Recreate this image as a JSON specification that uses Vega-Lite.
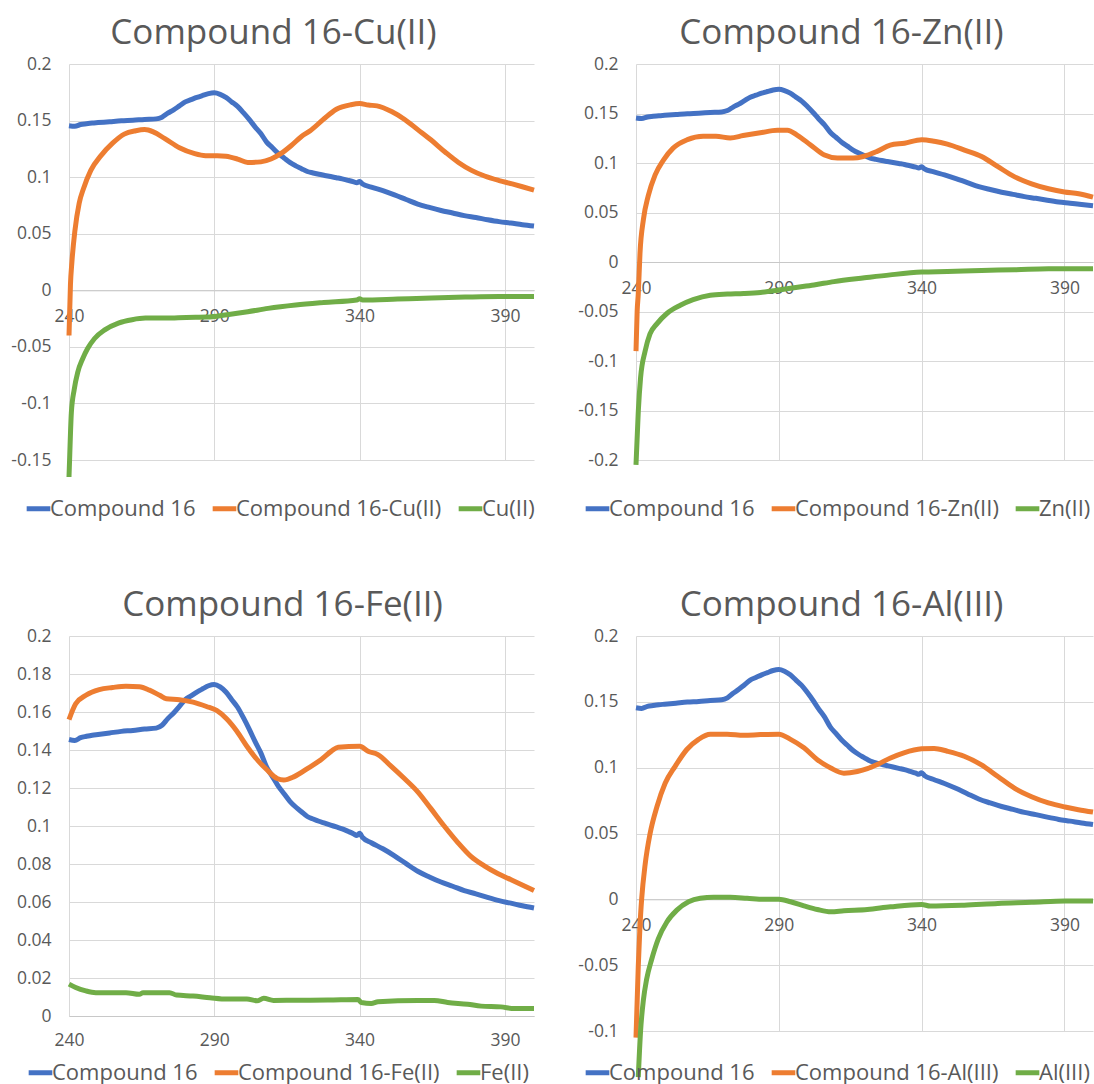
{
  "$schema": "https://vega.github.io/schema/vega-lite/v6.json",
  "background": "white",
  "padding": {"left": 10, "top": 15, "right": 0, "bottom": 0},
  "bounds": "flush",
  "columns": 2,
  "spacing": {"column": 102, "row": 176},
  "config": {
    "font": "Open Sans",
    "view": {"stroke": null},
    "axis": {"gridColor": "#D9D9D9", "gridWidth": 1, "labelColor": "#595959", "labelFontSize": 17.5, "labelFont": "Open Sans", "ticks": false, "tickSize": 0, "title": null},
    "legend": {"orient": "none", "direction": "horizontal", "title": null, "symbolType": "stroke", "symbolStrokeWidth": 5, "symbolSize": 560, "labelFontSize": 22, "labelColor": "#595959", "labelFont": "Open Sans", "labelOffset": -3, "labelLimit": 500, "columnPadding": 6, "padding": 0, "legendY": 430},
    "title": {"fontSize": 35, "font": "Open Sans", "fontWeight": "normal", "color": "#595959", "baseline": "alphabetic", "offset": 4.5, "anchor": "middle", "frame": "group"},
    "line": {"strokeWidth": 5, "clip": true, "interpolate": "monotone"}
  },
  "resolve": {"scale": {"color": "independent", "x": "independent", "y": "independent"}, "legend": {"color": "independent"}},
  "datasets": {
    "c16": [
      {"nm":240,"abs":0.1455,"series":"Compound 16"},{"nm":242,"abs":0.1450,"series":"Compound 16"},{"nm":244,"abs":0.1465,"series":"Compound 16"},{"nm":246,"abs":0.1472,"series":"Compound 16"},{"nm":248,"abs":0.1478,"series":"Compound 16"},{"nm":250,"abs":0.1482,"series":"Compound 16"},{"nm":254,"abs":0.1490,"series":"Compound 16"},{"nm":258,"abs":0.1498,"series":"Compound 16"},{"nm":262,"abs":0.1503,"series":"Compound 16"},{"nm":266,"abs":0.1510,"series":"Compound 16"},{"nm":270,"abs":0.1515,"series":"Compound 16"},{"nm":272,"abs":0.1530,"series":"Compound 16"},{"nm":274,"abs":0.1565,"series":"Compound 16"},{"nm":276,"abs":0.1595,"series":"Compound 16"},{"nm":278,"abs":0.1630,"series":"Compound 16"},{"nm":280,"abs":0.1665,"series":"Compound 16"},{"nm":282,"abs":0.1685,"series":"Compound 16"},{"nm":284,"abs":0.1705,"series":"Compound 16"},{"nm":286,"abs":0.1722,"series":"Compound 16"},{"nm":288,"abs":0.1738,"series":"Compound 16"},{"nm":290,"abs":0.1745,"series":"Compound 16"},{"nm":292,"abs":0.1732,"series":"Compound 16"},{"nm":294,"abs":0.1705,"series":"Compound 16"},{"nm":296,"abs":0.1665,"series":"Compound 16"},{"nm":298,"abs":0.1625,"series":"Compound 16"},{"nm":300,"abs":0.1570,"series":"Compound 16"},{"nm":302,"abs":0.1510,"series":"Compound 16"},{"nm":304,"abs":0.1445,"series":"Compound 16"},{"nm":306,"abs":0.1385,"series":"Compound 16"},{"nm":308,"abs":0.1310,"series":"Compound 16"},{"nm":310,"abs":0.1260,"series":"Compound 16"},{"nm":312,"abs":0.1210,"series":"Compound 16"},{"nm":314,"abs":0.1170,"series":"Compound 16"},{"nm":316,"abs":0.1130,"series":"Compound 16"},{"nm":318,"abs":0.1100,"series":"Compound 16"},{"nm":320,"abs":0.1075,"series":"Compound 16"},{"nm":322,"abs":0.1050,"series":"Compound 16"},{"nm":324,"abs":0.1037,"series":"Compound 16"},{"nm":326,"abs":0.1025,"series":"Compound 16"},{"nm":328,"abs":0.1015,"series":"Compound 16"},{"nm":330,"abs":0.1005,"series":"Compound 16"},{"nm":332,"abs":0.0995,"series":"Compound 16"},{"nm":334,"abs":0.0985,"series":"Compound 16"},{"nm":336,"abs":0.0972,"series":"Compound 16"},{"nm":338,"abs":0.0958,"series":"Compound 16"},{"nm":339,"abs":0.0950,"series":"Compound 16"},{"nm":340,"abs":0.0962,"series":"Compound 16"},{"nm":341,"abs":0.0940,"series":"Compound 16"},{"nm":344,"abs":0.0912,"series":"Compound 16"},{"nm":348,"abs":0.0880,"series":"Compound 16"},{"nm":352,"abs":0.0843,"series":"Compound 16"},{"nm":356,"abs":0.0802,"series":"Compound 16"},{"nm":360,"abs":0.0762,"series":"Compound 16"},{"nm":364,"abs":0.0732,"series":"Compound 16"},{"nm":368,"abs":0.0705,"series":"Compound 16"},{"nm":372,"abs":0.0683,"series":"Compound 16"},{"nm":376,"abs":0.0660,"series":"Compound 16"},{"nm":380,"abs":0.0643,"series":"Compound 16"},{"nm":384,"abs":0.0624,"series":"Compound 16"},{"nm":388,"abs":0.0607,"series":"Compound 16"},{"nm":392,"abs":0.0594,"series":"Compound 16"},{"nm":396,"abs":0.0580,"series":"Compound 16"},{"nm":400,"abs":0.0568,"series":"Compound 16"}
    ],
    "cu": [
      {"nm":240,"abs":-0.040,"series":"Compound 16-Cu(II)"},{"nm":240.5,"abs":0.005,"series":"Compound 16-Cu(II)"},{"nm":241,"abs":0.025,"series":"Compound 16-Cu(II)"},{"nm":242,"abs":0.052,"series":"Compound 16-Cu(II)"},{"nm":243.5,"abs":0.077,"series":"Compound 16-Cu(II)"},{"nm":245,"abs":0.090,"series":"Compound 16-Cu(II)"},{"nm":247.5,"abs":0.106,"series":"Compound 16-Cu(II)"},{"nm":251,"abs":0.119,"series":"Compound 16-Cu(II)"},{"nm":255,"abs":0.130,"series":"Compound 16-Cu(II)"},{"nm":259,"abs":0.138,"series":"Compound 16-Cu(II)"},{"nm":263,"abs":0.141,"series":"Compound 16-Cu(II)"},{"nm":266,"abs":0.142,"series":"Compound 16-Cu(II)"},{"nm":269,"abs":0.140,"series":"Compound 16-Cu(II)"},{"nm":273,"abs":0.134,"series":"Compound 16-Cu(II)"},{"nm":278,"abs":0.126,"series":"Compound 16-Cu(II)"},{"nm":283,"abs":0.121,"series":"Compound 16-Cu(II)"},{"nm":287,"abs":0.119,"series":"Compound 16-Cu(II)"},{"nm":291,"abs":0.119,"series":"Compound 16-Cu(II)"},{"nm":294,"abs":0.1185,"series":"Compound 16-Cu(II)"},{"nm":298,"abs":0.116,"series":"Compound 16-Cu(II)"},{"nm":301.5,"abs":0.113,"series":"Compound 16-Cu(II)"},{"nm":306,"abs":0.1135,"series":"Compound 16-Cu(II)"},{"nm":309.5,"abs":0.116,"series":"Compound 16-Cu(II)"},{"nm":313,"abs":0.121,"series":"Compound 16-Cu(II)"},{"nm":316.5,"abs":0.128,"series":"Compound 16-Cu(II)"},{"nm":320,"abs":0.136,"series":"Compound 16-Cu(II)"},{"nm":323,"abs":0.141,"series":"Compound 16-Cu(II)"},{"nm":327.5,"abs":0.151,"series":"Compound 16-Cu(II)"},{"nm":332,"abs":0.160,"series":"Compound 16-Cu(II)"},{"nm":337,"abs":0.164,"series":"Compound 16-Cu(II)"},{"nm":340,"abs":0.165,"series":"Compound 16-Cu(II)"},{"nm":343,"abs":0.1637,"series":"Compound 16-Cu(II)"},{"nm":346,"abs":0.163,"series":"Compound 16-Cu(II)"},{"nm":351,"abs":0.158,"series":"Compound 16-Cu(II)"},{"nm":355.5,"abs":0.151,"series":"Compound 16-Cu(II)"},{"nm":360,"abs":0.142,"series":"Compound 16-Cu(II)"},{"nm":364.5,"abs":0.133,"series":"Compound 16-Cu(II)"},{"nm":369.5,"abs":0.122,"series":"Compound 16-Cu(II)"},{"nm":374,"abs":0.113,"series":"Compound 16-Cu(II)"},{"nm":378.5,"abs":0.106,"series":"Compound 16-Cu(II)"},{"nm":383,"abs":0.101,"series":"Compound 16-Cu(II)"},{"nm":388,"abs":0.097,"series":"Compound 16-Cu(II)"},{"nm":392.5,"abs":0.094,"series":"Compound 16-Cu(II)"},{"nm":396,"abs":0.0915,"series":"Compound 16-Cu(II)"},{"nm":400,"abs":0.0885,"series":"Compound 16-Cu(II)"},
      {"nm":240,"abs":-0.165,"series":"Cu(II)"},{"nm":240.2,"abs":-0.150,"series":"Cu(II)"},{"nm":240.8,"abs":-0.1085,"series":"Cu(II)"},{"nm":241.8,"abs":-0.0875,"series":"Cu(II)"},{"nm":243,"abs":-0.0725,"series":"Cu(II)"},{"nm":244.7,"abs":-0.0605,"series":"Cu(II)"},{"nm":246.4,"abs":-0.0515,"series":"Cu(II)"},{"nm":248.8,"abs":-0.0426,"series":"Cu(II)"},{"nm":252.3,"abs":-0.035,"series":"Cu(II)"},{"nm":257,"abs":-0.029,"series":"Cu(II)"},{"nm":261.7,"abs":-0.026,"series":"Cu(II)"},{"nm":266.3,"abs":-0.0246,"series":"Cu(II)"},{"nm":273.4,"abs":-0.0246,"series":"Cu(II)"},{"nm":280.4,"abs":-0.024,"series":"Cu(II)"},{"nm":287.4,"abs":-0.0237,"series":"Cu(II)"},{"nm":294.4,"abs":-0.0216,"series":"Cu(II)"},{"nm":301.5,"abs":-0.019,"series":"Cu(II)"},{"nm":308.5,"abs":-0.016,"series":"Cu(II)"},{"nm":318,"abs":-0.013,"series":"Cu(II)"},{"nm":327.6,"abs":-0.0108,"series":"Cu(II)"},{"nm":339,"abs":-0.0086,"series":"Cu(II)"},{"nm":340,"abs":-0.0075,"series":"Cu(II)"},{"nm":341,"abs":-0.0086,"series":"Cu(II)"},{"nm":353,"abs":-0.0078,"series":"Cu(II)"},{"nm":364.7,"abs":-0.0069,"series":"Cu(II)"},{"nm":376.3,"abs":-0.006,"series":"Cu(II)"},{"nm":388,"abs":-0.0054,"series":"Cu(II)"},{"nm":400,"abs":-0.0054,"series":"Cu(II)"}
    ],
    "zn": [
      {"nm":240,"abs":-0.090,"series":"Compound 16-Zn(II)"},{"nm":240.4,"abs":-0.050,"series":"Compound 16-Zn(II)"},{"nm":240.8,"abs":-0.032,"series":"Compound 16-Zn(II)"},{"nm":241.4,"abs":0.009,"series":"Compound 16-Zn(II)"},{"nm":242.6,"abs":0.043,"series":"Compound 16-Zn(II)"},{"nm":244.3,"abs":0.067,"series":"Compound 16-Zn(II)"},{"nm":246.7,"abs":0.088,"series":"Compound 16-Zn(II)"},{"nm":249.6,"abs":0.103,"series":"Compound 16-Zn(II)"},{"nm":253,"abs":0.115,"series":"Compound 16-Zn(II)"},{"nm":258,"abs":0.1236,"series":"Compound 16-Zn(II)"},{"nm":263.5,"abs":0.127,"series":"Compound 16-Zn(II)"},{"nm":268,"abs":0.127,"series":"Compound 16-Zn(II)"},{"nm":273,"abs":0.1253,"series":"Compound 16-Zn(II)"},{"nm":277.5,"abs":0.1277,"series":"Compound 16-Zn(II)"},{"nm":283.5,"abs":0.1305,"series":"Compound 16-Zn(II)"},{"nm":289.5,"abs":0.133,"series":"Compound 16-Zn(II)"},{"nm":293,"abs":0.133,"series":"Compound 16-Zn(II)"},{"nm":296.5,"abs":0.128,"series":"Compound 16-Zn(II)"},{"nm":301,"abs":0.1185,"series":"Compound 16-Zn(II)"},{"nm":306,"abs":0.108,"series":"Compound 16-Zn(II)"},{"nm":310.5,"abs":0.105,"series":"Compound 16-Zn(II)"},{"nm":316,"abs":0.105,"series":"Compound 16-Zn(II)"},{"nm":319.6,"abs":0.1066,"series":"Compound 16-Zn(II)"},{"nm":324.4,"abs":0.1117,"series":"Compound 16-Zn(II)"},{"nm":329,"abs":0.118,"series":"Compound 16-Zn(II)"},{"nm":334,"abs":0.120,"series":"Compound 16-Zn(II)"},{"nm":340,"abs":0.1236,"series":"Compound 16-Zn(II)"},{"nm":344.4,"abs":0.122,"series":"Compound 16-Zn(II)"},{"nm":349,"abs":0.119,"series":"Compound 16-Zn(II)"},{"nm":355,"abs":0.113,"series":"Compound 16-Zn(II)"},{"nm":361,"abs":0.1066,"series":"Compound 16-Zn(II)"},{"nm":366.7,"abs":0.0963,"series":"Compound 16-Zn(II)"},{"nm":372.6,"abs":0.086,"series":"Compound 16-Zn(II)"},{"nm":378.5,"abs":0.079,"series":"Compound 16-Zn(II)"},{"nm":384.4,"abs":0.074,"series":"Compound 16-Zn(II)"},{"nm":390,"abs":0.0707,"series":"Compound 16-Zn(II)"},{"nm":395,"abs":0.069,"series":"Compound 16-Zn(II)"},{"nm":400,"abs":0.0656,"series":"Compound 16-Zn(II)"},
      {"nm":240,"abs":-0.205,"series":"Zn(II)"},{"nm":240.8,"abs":-0.151,"series":"Zn(II)"},{"nm":241.6,"abs":-0.117,"series":"Zn(II)"},{"nm":243.2,"abs":-0.090,"series":"Zn(II)"},{"nm":244.9,"abs":-0.0727,"series":"Zn(II)"},{"nm":247.3,"abs":-0.0625,"series":"Zn(II)"},{"nm":250.8,"abs":-0.052,"series":"Zn(II)"},{"nm":255.5,"abs":-0.0437,"series":"Zn(II)"},{"nm":260,"abs":-0.038,"series":"Zn(II)"},{"nm":266,"abs":-0.0335,"series":"Zn(II)"},{"nm":272,"abs":-0.0324,"series":"Zn(II)"},{"nm":277.7,"abs":-0.0318,"series":"Zn(II)"},{"nm":283.6,"abs":-0.0307,"series":"Zn(II)"},{"nm":290,"abs":-0.0283,"series":"Zn(II)"},{"nm":295.3,"abs":-0.026,"series":"Zn(II)"},{"nm":302.3,"abs":-0.0232,"series":"Zn(II)"},{"nm":309.3,"abs":-0.0198,"series":"Zn(II)"},{"nm":320,"abs":-0.016,"series":"Zn(II)"},{"nm":329,"abs":-0.013,"series":"Zn(II)"},{"nm":340,"abs":-0.0102,"series":"Zn(II)"},{"nm":349,"abs":-0.0096,"series":"Zn(II)"},{"nm":361,"abs":-0.0085,"series":"Zn(II)"},{"nm":372.6,"abs":-0.0079,"series":"Zn(II)"},{"nm":384.4,"abs":-0.0068,"series":"Zn(II)"},{"nm":400,"abs":-0.0068,"series":"Zn(II)"}
    ],
    "fe": [
      {"nm":240,"abs":0.156,"series":"Compound 16-Fe(II)"},{"nm":242.3,"abs":0.1643,"series":"Compound 16-Fe(II)"},{"nm":245.8,"abs":0.1688,"series":"Compound 16-Fe(II)"},{"nm":250.4,"abs":0.1718,"series":"Compound 16-Fe(II)"},{"nm":255,"abs":0.1729,"series":"Compound 16-Fe(II)"},{"nm":259.6,"abs":0.1736,"series":"Compound 16-Fe(II)"},{"nm":264.2,"abs":0.1733,"series":"Compound 16-Fe(II)"},{"nm":267.7,"abs":0.1715,"series":"Compound 16-Fe(II)"},{"nm":271.2,"abs":0.1688,"series":"Compound 16-Fe(II)"},{"nm":273.5,"abs":0.167,"series":"Compound 16-Fe(II)"},{"nm":278,"abs":0.1665,"series":"Compound 16-Fe(II)"},{"nm":282.7,"abs":0.1652,"series":"Compound 16-Fe(II)"},{"nm":287.3,"abs":0.1629,"series":"Compound 16-Fe(II)"},{"nm":290.8,"abs":0.1608,"series":"Compound 16-Fe(II)"},{"nm":294.3,"abs":0.1563,"series":"Compound 16-Fe(II)"},{"nm":297.7,"abs":0.150,"series":"Compound 16-Fe(II)"},{"nm":301.2,"abs":0.142,"series":"Compound 16-Fe(II)"},{"nm":304.7,"abs":0.135,"series":"Compound 16-Fe(II)"},{"nm":308.1,"abs":0.1296,"series":"Compound 16-Fe(II)"},{"nm":311.6,"abs":0.125,"series":"Compound 16-Fe(II)"},{"nm":313.9,"abs":0.1242,"series":"Compound 16-Fe(II)"},{"nm":317.5,"abs":0.126,"series":"Compound 16-Fe(II)"},{"nm":322.3,"abs":0.1305,"series":"Compound 16-Fe(II)"},{"nm":326.8,"abs":0.135,"series":"Compound 16-Fe(II)"},{"nm":330.3,"abs":0.1394,"series":"Compound 16-Fe(II)"},{"nm":332.6,"abs":0.1415,"series":"Compound 16-Fe(II)"},{"nm":340,"abs":0.142,"series":"Compound 16-Fe(II)"},{"nm":342.9,"abs":0.1394,"series":"Compound 16-Fe(II)"},{"nm":346.3,"abs":0.1376,"series":"Compound 16-Fe(II)"},{"nm":350.9,"abs":0.1314,"series":"Compound 16-Fe(II)"},{"nm":355.4,"abs":0.125,"series":"Compound 16-Fe(II)"},{"nm":360,"abs":0.118,"series":"Compound 16-Fe(II)"},{"nm":364.6,"abs":0.109,"series":"Compound 16-Fe(II)"},{"nm":369.1,"abs":0.100,"series":"Compound 16-Fe(II)"},{"nm":373.8,"abs":0.0913,"series":"Compound 16-Fe(II)"},{"nm":378.3,"abs":0.084,"series":"Compound 16-Fe(II)"},{"nm":382.9,"abs":0.079,"series":"Compound 16-Fe(II)"},{"nm":387.5,"abs":0.075,"series":"Compound 16-Fe(II)"},{"nm":392.1,"abs":0.0717,"series":"Compound 16-Fe(II)"},{"nm":400,"abs":0.0660,"series":"Compound 16-Fe(II)"},
      {"nm":240,"abs":0.0168,"series":"Fe(II)"},{"nm":242.3,"abs":0.015,"series":"Fe(II)"},{"nm":245.8,"abs":0.0132,"series":"Fe(II)"},{"nm":249.2,"abs":0.0123,"series":"Fe(II)"},{"nm":253.9,"abs":0.0123,"series":"Fe(II)"},{"nm":259.6,"abs":0.0123,"series":"Fe(II)"},{"nm":264.2,"abs":0.0114,"series":"Fe(II)"},{"nm":265.5,"abs":0.0123,"series":"Fe(II)"},{"nm":274.6,"abs":0.0123,"series":"Fe(II)"},{"nm":277,"abs":0.011,"series":"Fe(II)"},{"nm":282.7,"abs":0.0105,"series":"Fe(II)"},{"nm":288.5,"abs":0.0096,"series":"Fe(II)"},{"nm":294.3,"abs":0.0089,"series":"Fe(II)"},{"nm":301.2,"abs":0.0089,"series":"Fe(II)"},{"nm":304.7,"abs":0.008,"series":"Fe(II)"},{"nm":307,"abs":0.0093,"series":"Fe(II)"},{"nm":310.4,"abs":0.0082,"series":"Fe(II)"},{"nm":317.5,"abs":0.0083,"series":"Fe(II)"},{"nm":329.1,"abs":0.0084,"series":"Fe(II)"},{"nm":339.4,"abs":0.0087,"series":"Fe(II)"},{"nm":340.6,"abs":0.0071,"series":"Fe(II)"},{"nm":344,"abs":0.0066,"series":"Fe(II)"},{"nm":346.3,"abs":0.0075,"series":"Fe(II)"},{"nm":360,"abs":0.0082,"series":"Fe(II)"},{"nm":365.7,"abs":0.0082,"series":"Fe(II)"},{"nm":370.3,"abs":0.0071,"series":"Fe(II)"},{"nm":377.2,"abs":0.0062,"series":"Fe(II)"},{"nm":381.8,"abs":0.0052,"series":"Fe(II)"},{"nm":388.6,"abs":0.0048,"series":"Fe(II)"},{"nm":393.2,"abs":0.0039,"series":"Fe(II)"},{"nm":400,"abs":0.0039,"series":"Fe(II)"}
    ],
    "al": [
      {"nm":240,"abs":-0.105,"series":"Compound 16-Al(III)"},{"nm":240.8,"abs":-0.0506,"series":"Compound 16-Al(III)"},{"nm":241.4,"abs":-0.0198,"series":"Compound 16-Al(III)"},{"nm":242,"abs":0.0008,"series":"Compound 16-Al(III)"},{"nm":243.2,"abs":0.0265,"series":"Compound 16-Al(III)"},{"nm":244.9,"abs":0.0496,"series":"Compound 16-Al(III)"},{"nm":247.3,"abs":0.0701,"series":"Compound 16-Al(III)"},{"nm":250.2,"abs":0.0881,"series":"Compound 16-Al(III)"},{"nm":253.7,"abs":0.101,"series":"Compound 16-Al(III)"},{"nm":257.8,"abs":0.1138,"series":"Compound 16-Al(III)"},{"nm":261.9,"abs":0.1215,"series":"Compound 16-Al(III)"},{"nm":266,"abs":0.1254,"series":"Compound 16-Al(III)"},{"nm":271.9,"abs":0.1254,"series":"Compound 16-Al(III)"},{"nm":277.7,"abs":0.1246,"series":"Compound 16-Al(III)"},{"nm":283.6,"abs":0.1251,"series":"Compound 16-Al(III)"},{"nm":290,"abs":0.1254,"series":"Compound 16-Al(III)"},{"nm":294.1,"abs":0.1215,"series":"Compound 16-Al(III)"},{"nm":298.8,"abs":0.1151,"series":"Compound 16-Al(III)"},{"nm":303.5,"abs":0.1061,"series":"Compound 16-Al(III)"},{"nm":308.2,"abs":0.0997,"series":"Compound 16-Al(III)"},{"nm":312.8,"abs":0.0958,"series":"Compound 16-Al(III)"},{"nm":317.5,"abs":0.0971,"series":"Compound 16-Al(III)"},{"nm":321,"abs":0.0992,"series":"Compound 16-Al(III)"},{"nm":324.4,"abs":0.1023,"series":"Compound 16-Al(III)"},{"nm":329.1,"abs":0.1074,"series":"Compound 16-Al(III)"},{"nm":333.8,"abs":0.1113,"series":"Compound 16-Al(III)"},{"nm":340,"abs":0.1143,"series":"Compound 16-Al(III)"},{"nm":344.4,"abs":0.1146,"series":"Compound 16-Al(III)"},{"nm":349,"abs":0.1125,"series":"Compound 16-Al(III)"},{"nm":354.9,"abs":0.1087,"series":"Compound 16-Al(III)"},{"nm":360.8,"abs":0.1023,"series":"Compound 16-Al(III)"},{"nm":366.7,"abs":0.0933,"series":"Compound 16-Al(III)"},{"nm":372.6,"abs":0.0843,"series":"Compound 16-Al(III)"},{"nm":378.5,"abs":0.0779,"series":"Compound 16-Al(III)"},{"nm":384.4,"abs":0.0732,"series":"Compound 16-Al(III)"},{"nm":390.2,"abs":0.0701,"series":"Compound 16-Al(III)"},{"nm":394.9,"abs":0.0681,"series":"Compound 16-Al(III)"},{"nm":400,"abs":0.0663,"series":"Compound 16-Al(III)"},
      {"nm":240.8,"abs":-0.135,"series":"Al(III)"},{"nm":241.6,"abs":-0.100,"series":"Al(III)"},{"nm":242.6,"abs":-0.0763,"series":"Al(III)"},{"nm":243.7,"abs":-0.0609,"series":"Al(III)"},{"nm":245.5,"abs":-0.0455,"series":"Al(III)"},{"nm":247.8,"abs":-0.030,"series":"Al(III)"},{"nm":250.8,"abs":-0.0172,"series":"Al(III)"},{"nm":254.3,"abs":-0.0082,"series":"Al(III)"},{"nm":258.4,"abs":-0.0018,"series":"Al(III)"},{"nm":262.5,"abs":0.0008,"series":"Al(III)"},{"nm":267.2,"abs":0.0015,"series":"Al(III)"},{"nm":273,"abs":0.0015,"series":"Al(III)"},{"nm":278.9,"abs":0.0008,"series":"Al(III)"},{"nm":284.7,"abs":0,"series":"Al(III)"},{"nm":290,"abs":0,"series":"Al(III)"},{"nm":294.1,"abs":-0.0018,"series":"Al(III)"},{"nm":298.8,"abs":-0.0049,"series":"Al(III)"},{"nm":303.5,"abs":-0.0077,"series":"Al(III)"},{"nm":308.2,"abs":-0.0095,"series":"Al(III)"},{"nm":312.8,"abs":-0.0087,"series":"Al(III)"},{"nm":321,"abs":-0.0077,"series":"Al(III)"},{"nm":329.1,"abs":-0.0057,"series":"Al(III)"},{"nm":340,"abs":-0.0039,"series":"Al(III)"},{"nm":343,"abs":-0.0051,"series":"Al(III)"},{"nm":354.9,"abs":-0.0044,"series":"Al(III)"},{"nm":366.7,"abs":-0.0031,"series":"Al(III)"},{"nm":378.5,"abs":-0.0023,"series":"Al(III)"},{"nm":390.2,"abs":-0.0013,"series":"Al(III)"},{"nm":400,"abs":-0.0013,"series":"Al(III)"}
    ]
  },
  "concat": [
    {
      "title": {"text": "Compound 16-Cu(II)", "dx": -28},
      "width": 465, "height": 396,
      "encoding": {
        "x": {"field": "nm", "type": "quantitative", "scale": {"domain": [240, 400], "nice": false, "zero": false}, "axis": {"values": [240, 290, 340, 390], "grid": true, "domainColor": "#C8C8C8", "labelPadding": 17, "labelFlush": false, "offset": -169.7}},
        "y": {"field": "abs", "type": "quantitative", "scale": {"domain": [-0.15, 0.2], "nice": false, "zero": false}, "axis": {"values": [-0.15, -0.1, -0.05, 0, 0.05, 0.1, 0.15, 0.2], "grid": true, "domain": false, "labelPadding": 18, "labelExpr": "'' + datum.value"}},
        "color": {"field": "series", "type": "nominal", "scale": {"domain": ["Compound 16", "Compound 16-Cu(II)", "Cu(II)"], "range": ["#4472C4", "#ED7D31", "#70AD47"]}, "legend": {"legendX": -45}}
      },
      "layer": [
        {"data": {"name": "c16"}, "mark": "line"},
        {"data": {"name": "cu"}, "mark": "line"}
      ]
    },
    {
      "title": {"text": "Compound 16-Zn(II)", "dx": -23},
      "width": 457, "height": 396,
      "encoding": {
        "x": {"field": "nm", "type": "quantitative", "scale": {"domain": [240, 400], "nice": false, "zero": false}, "axis": {"values": [240, 290, 340, 390], "grid": true, "domainColor": "#C8C8C8", "labelPadding": 17, "labelFlush": false, "offset": -198}},
        "y": {"field": "abs", "type": "quantitative", "scale": {"domain": [-0.2, 0.2], "nice": false, "zero": false}, "axis": {"values": [-0.2, -0.15, -0.1, -0.05, 0, 0.05, 0.1, 0.15, 0.2], "grid": true, "domain": false, "labelPadding": 18, "labelExpr": "'' + datum.value"}},
        "color": {"field": "series", "type": "nominal", "scale": {"domain": ["Compound 16", "Compound 16-Zn(II)", "Zn(II)"], "range": ["#4472C4", "#ED7D31", "#70AD47"]}, "legend": {"legendX": -53}}
      },
      "layer": [
        {"data": {"name": "c16"}, "mark": "line"},
        {"data": {"name": "zn"}, "mark": "line"}
      ]
    },
    {
      "title": {"text": "Compound 16-Fe(II)", "dx": -19},
      "width": 465, "height": 380,
      "encoding": {
        "x": {"field": "nm", "type": "quantitative", "scale": {"domain": [240, 400], "nice": false, "zero": false}, "axis": {"values": [240, 290, 340, 390], "grid": true, "domainColor": "#C8C8C8", "labelPadding": 15, "labelFlush": false}},
        "y": {"field": "abs", "type": "quantitative", "scale": {"domain": [0, 0.2], "nice": false, "zero": false}, "axis": {"values": [0, 0.02, 0.04, 0.06, 0.08, 0.1, 0.12, 0.14, 0.16, 0.18, 0.2], "grid": true, "domain": false, "labelPadding": 18, "labelExpr": "'' + datum.value"}},
        "color": {"field": "series", "type": "nominal", "scale": {"domain": ["Compound 16", "Compound 16-Fe(II)", "Fe(II)"], "range": ["#4472C4", "#ED7D31", "#70AD47"]}, "legend": {"legendX": -43, "legendY": 422}}
      },
      "layer": [
        {"data": {"name": "c16"}, "mark": "line"},
        {"data": {"name": "fe"}, "mark": "line"}
      ]
    },
    {
      "title": {"text": "Compound 16-Al(III)", "dx": -23},
      "width": 457, "height": 395,
      "encoding": {
        "x": {"field": "nm", "type": "quantitative", "scale": {"domain": [240, 400], "nice": false, "zero": false}, "axis": {"values": [240, 290, 340, 390], "grid": true, "domainColor": "#C8C8C8", "labelPadding": 17, "labelFlush": false, "offset": -131.7}},
        "y": {"field": "abs", "type": "quantitative", "scale": {"domain": [-0.1, 0.2], "nice": false, "zero": false}, "axis": {"values": [-0.1, -0.05, 0, 0.05, 0.1, 0.15, 0.2], "grid": true, "domain": false, "labelPadding": 18, "labelExpr": "'' + datum.value"}},
        "color": {"field": "series", "type": "nominal", "scale": {"domain": ["Compound 16", "Compound 16-Al(III)", "Al(III)"], "range": ["#4472C4", "#ED7D31", "#70AD47"]}, "legend": {"legendX": -53, "legendY": 422}}
      },
      "layer": [
        {"data": {"name": "c16"}, "mark": "line"},
        {"data": {"name": "al"}, "mark": "line"}
      ]
    }
  ]
}
